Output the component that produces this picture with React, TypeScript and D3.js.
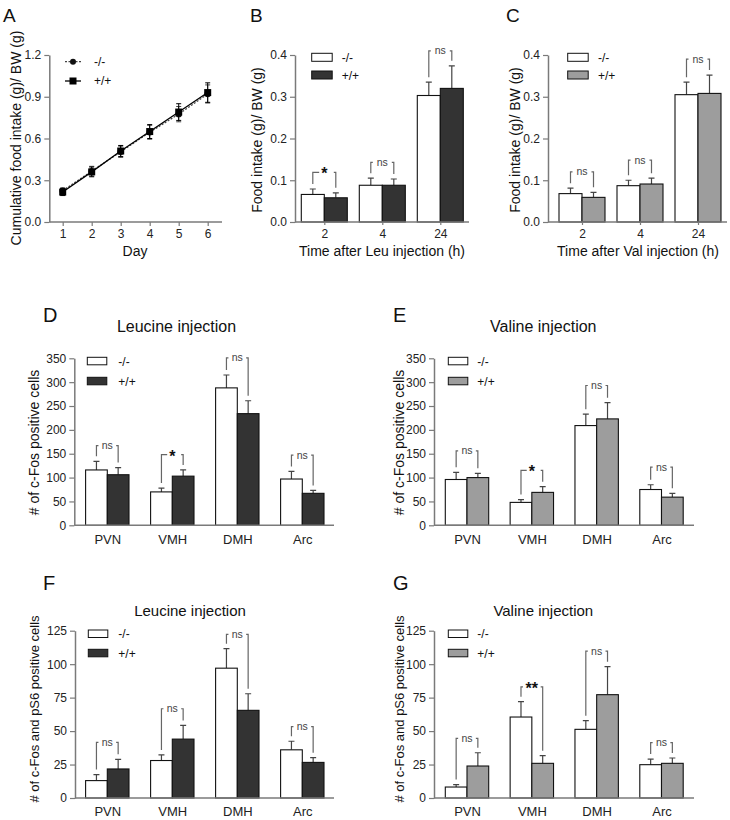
import React, { useRef, useEffect } from 'react';
import * as d3 from 'd3';

const FONT = 'Arial, "Liberation Sans", sans-serif';
const AXIS = '#7a7a7a';
const DARK = '#333333';
const GREY = '#9d9d9d';

// Panel A: cumulative food intake
const days = [1, 2, 3, 4, 5, 6];
const aKo = [0.225, 0.365, 0.505, 0.645, 0.775, 0.92];
const aKoErr = [0.02, 0.035, 0.04, 0.05, 0.055, 0.065];
const aWt = [0.215, 0.36, 0.51, 0.65, 0.79, 0.93];
const aWtErr = [0.025, 0.035, 0.04, 0.05, 0.06, 0.07];
const aTicks = [0, 0.3, 0.6, 0.9, 1.2];

// Panels B / C: food intake after injection
const hours = ['2', '4', '24'];
const bKo = [0.066, 0.088, 0.303];
const bKoErr = [0.013, 0.017, 0.032];
const bWt = [0.058, 0.088, 0.32];
const bWtErr = [0.012, 0.015, 0.054];
const bBracket = [0.119, 0.143, 0.41];
const bSig = ['*', 'ns', 'ns'];

const cKo = [0.068, 0.087, 0.305];
const cKoErr = [0.013, 0.013, 0.03];
const cWt = [0.059, 0.091, 0.308];
const cWtErr = [0.012, 0.014, 0.044];
const cBracket = [0.12, 0.148, 0.39];
const cSig = ['ns', 'ns', 'ns'];
const intakeTicks = [0, 0.1, 0.2, 0.3, 0.4];

// Panels D-G: hypothalamic nuclei
const regions = ['PVN', 'VMH', 'DMH', 'Arc'];
const dKo = [116, 70, 288, 97];
const dKoErr = [18, 8, 27, 16];
const dWt = [106, 103, 234, 67];
const dWtErr = [15, 13, 27, 6];
const dBracket = [167, 148, 351, 147];
const dSig = ['ns', '*', 'ns', 'ns'];

const eKo = [96, 48, 209, 75];
const eKoErr = [15, 6, 24, 10];
const eWt = [100, 69, 223, 59];
const eWtErr = [9, 12, 34, 8];
const eBracket = [156, 115, 293, 122];
const eSig = ['ns', '*', 'ns', 'ns'];
const fosTicks = [0, 50, 100, 150, 200, 250, 300, 350];

const fKo = [13, 28, 97, 36];
const fKoErr = [4.5, 4.2, 14.6, 6.4];
const fWt = [21.7, 44, 65.5, 26.6];
const fWtErr = [7.2, 10.2, 12.4, 3.5];
const fBracket = [41.6, 66.7, 122.3, 53.3];
const fSig = ['ns', 'ns', 'ns', 'ns'];

const gKo = [8.2, 60.5, 51.3, 24.9];
const gKoErr = [1.8, 11.5, 6.5, 4.2];
const gWt = [23.9, 25.9, 77.2, 25.9];
const gWtErr = [9.9, 5.7, 20.9, 4];
const gBracket = [44.6, 83.1, 109.8, 41.3];
const gSig = ['ns', '**', 'ns', 'ns'];
const ps6Ticks = [0, 25, 50, 75, 100, 125];

const legendLabels = ['-/-', '+/+'];

function styleAxis(sel, size = 12) {
  sel.select('.domain').attr('stroke', AXIS).attr('stroke-width', 1.5);
  sel.selectAll('.tick line').attr('stroke', AXIS).attr('stroke-width', 1.2);
  sel.selectAll('.tick text').attr('fill', '#222').attr('font-size', size).attr('font-family', FONT);
}

function text(g, x, y, str, size, opts: any = {}) {
  const t = g.append('text')
    .attr('x', x).attr('y', y)
    .attr('font-family', FONT).attr('font-size', size)
    .attr('fill', opts.fill || '#111')
    .attr('text-anchor', opts.anchor || 'start')
    .text(str);
  if (opts.rotate) t.attr('transform', `rotate(-90,${x},${y})`);
  return t;
}

function drawLinePanel(g) {
  const x = d3.scaleLinear().domain([1, 6]).range([62.7, 207.7]);
  const y = d3.scaleLinear().domain([0, 1.2]).range([222, 55]);

  text(g, 3, 22, 'A', 19);
  text(g, 21, 138, 'Cumulative food intake (g)/ BW (g)', 14, { anchor: 'middle', rotate: true });
  text(g, 135, 256, 'Day', 14, { anchor: 'middle' });

  const ya = g.append('g').attr('transform', 'translate(49.3,0)')
    .call(d3.axisLeft(y).tickValues(aTicks).tickFormat(d3.format('.1f')).tickSize(5).tickSizeOuter(0));
  styleAxis(ya);
  g.append('line').attr('x1', 49.3).attr('x2', 222).attr('y1', 222).attr('y2', 222)
    .attr('stroke', AXIS).attr('stroke-width', 1.5);
  const xa = g.append('g').attr('transform', 'translate(0,222)')
    .call(d3.axisBottom(x).tickValues(days).tickFormat(d3.format('d')).tickSize(4).tickSizeOuter(0));
  xa.select('.domain').remove();
  styleAxis(xa);

  const series = [
    { mean: aKo, err: aKoErr, dash: '2,1.5', color: '#444', marker: 'circle' },
    { mean: aWt, err: aWtErr, dash: null, color: '#000', marker: 'square' },
  ];
  const line = d3.line<number>().x((_, i) => x(days[i])).y(d => y(d));
  series.forEach(s => {
    const pts = days.map((d, i) => ({ d, m: s.mean[i], e: s.err[i] }));
    g.append('g').selectAll('path').data(pts).join('path')
      .attr('d', p => {
        const cx = x(p.d);
        return `M${cx},${y(p.m - p.e)}V${y(p.m + p.e)}M${cx - 2.5},${y(p.m + p.e)}H${cx + 2.5}M${cx - 2.5},${y(p.m - p.e)}H${cx + 2.5}`;
      })
      .attr('stroke', s.color).attr('stroke-width', 1).attr('fill', 'none');
    g.append('path').attr('d', line(s.mean)).attr('fill', 'none')
      .attr('stroke', s.color).attr('stroke-width', 1.3)
      .attr('stroke-dasharray', s.dash);
    if (s.marker === 'circle') {
      g.append('g').selectAll('circle').data(pts).join('circle')
        .attr('cx', p => x(p.d)).attr('cy', p => y(p.m)).attr('r', 3.2).attr('fill', '#111');
    } else {
      g.append('g').selectAll('rect').data(pts).join('rect')
        .attr('x', p => x(p.d) - 3.5).attr('y', p => y(p.m) - 3.5)
        .attr('width', 7).attr('height', 7).attr('fill', '#000');
    }
  });

  // legend
  series.forEach((s, i) => {
    const ly = 61.7 + i * 19.3;
    g.append('line').attr('x1', 65).attr('x2', 81).attr('y1', ly).attr('y2', ly)
      .attr('stroke', s.color).attr('stroke-width', 1.3).attr('stroke-dasharray', s.dash);
    if (s.marker === 'circle') {
      g.append('circle').attr('cx', 73).attr('cy', ly).attr('r', 3).attr('fill', '#111');
    } else {
      g.append('rect').attr('x', 69.5).attr('y', ly - 3.5).attr('width', 7).attr('height', 7).attr('fill', '#000');
    }
    text(g, 94, ly + 4, legendLabels[i], 12);
  });
}

function drawBarPanel(g, cfg) {
  const y = d3.scaleLinear().domain([0, cfg.ticks[cfg.ticks.length - 1]]).range([cfg.y0, cfg.y1]);
  const x = d3.scalePoint().domain(cfg.cats).range([cfg.c0, cfg.c1]);
  const bw = cfg.bw;

  text(g, cfg.lx, cfg.ly, cfg.letter, cfg.letterSize);
  if (cfg.title) text(g, cfg.tx, cfg.ty, cfg.title, cfg.titleSize, { anchor: 'middle' });
  text(g, cfg.ylx, cfg.yly, cfg.yLabel, cfg.yLabelSize, { anchor: 'middle', rotate: true });
  if (cfg.xLabel) text(g, cfg.xlx, cfg.xly, cfg.xLabel, 14, { anchor: 'middle' });

  const ya = g.append('g').attr('transform', `translate(${cfg.ax},0)`)
    .call(d3.axisLeft(y).tickValues(cfg.ticks).tickFormat(cfg.fmt).tickSize(5).tickSizeOuter(0));
  styleAxis(ya);

  const rows = cfg.cats.map((c, i) => ({
    c, ko: cfg.ko[i], koErr: cfg.koErr[i], wt: cfg.wt[i], wtErr: cfg.wtErr[i],
    top: cfg.bracket[i], sig: cfg.sig[i],
  }));

  const bars = rows.flatMap(r => [
    { x: x(r.c) - bw, v: r.ko, e: r.koErr, fill: '#fff' },
    { x: x(r.c), v: r.wt, e: r.wtErr, fill: cfg.wtFill },
  ]);
  g.append('g').selectAll('path').data(bars).join('path')
    .attr('d', b => {
      const cx = b.x + bw / 2;
      return `M${cx},${y(b.v)}V${y(b.v + b.e)}M${cx - 3},${y(b.v + b.e)}H${cx + 3}`;
    })
    .attr('stroke', '#444').attr('stroke-width', 1.2).attr('fill', 'none');
  g.append('g').selectAll('rect').data(bars).join('rect')
    .attr('x', b => b.x).attr('y', b => y(b.v))
    .attr('width', bw).attr('height', b => y(0) - y(b.v))
    .attr('fill', b => b.fill).attr('stroke', '#111').attr('stroke-width', 1.1);

  g.append('line').attr('x1', cfg.ax).attr('x2', cfg.axEnd).attr('y1', y(0)).attr('y2', y(0))
    .attr('stroke', AXIS).attr('stroke-width', 1.5);
  const xa = g.append('g').attr('transform', `translate(0,${y(0)})`)
    .call(d3.axisBottom(x).tickSize(cfg.xTick).tickPadding(cfg.xPad).tickSizeOuter(0));
  xa.select('.domain').remove();
  styleAxis(xa, cfg.xFont);

  // significance brackets
  rows.forEach(r => {
    const xl = x(r.c) - bw / 2;
    const xr = x(r.c) + bw / 2;
    const ty = y(r.top);
    const star = r.sig !== 'ns';
    const t = text(g, x(r.c), star ? ty + 7 : ty + 3.5, r.sig, star ? 16 : 10.5,
      { anchor: 'middle', fill: star ? '#111' : '#444' });
    if (star) t.attr('font-weight', 'bold');
    const half = (t.node() as SVGTextElement).getComputedTextLength() / 2 + 2;
    const path = d3.path();
    path.moveTo(xl, y(r.ko + r.koErr) - 5);
    path.lineTo(xl, ty);
    path.lineTo(Math.min(x(r.c) - half, xl + 4 > x(r.c) - half ? xl + 2 : x(r.c) - half), ty);
    path.moveTo(Math.max(x(r.c) + half, xr - 2), ty);
    path.lineTo(xr, ty);
    path.lineTo(xr, y(r.wt + r.wtErr) - 5);
    g.append('path').attr('d', path.toString()).attr('fill', 'none')
      .attr('stroke', '#666').attr('stroke-width', 1.2);
  });

  // legend
  [{ fill: '#fff' }, { fill: cfg.wtFill }].forEach((d, i) => {
    const ry = cfg.legY + i * cfg.legGap;
    g.append('rect').attr('x', cfg.legX).attr('y', ry).attr('width', cfg.legW).attr('height', cfg.legH)
      .attr('fill', d.fill).attr('stroke', '#111').attr('stroke-width', 1);
    text(g, cfg.legTx, ry + cfg.legH / 2 + 4.5, legendLabels[i], 12);
  });
}

export default function App() {
  const svgRef = useRef<SVGSVGElement>(null);

  useEffect(() => {
    const svg = d3.select(svgRef.current);
    svg.selectAll('*').remove();

    drawLinePanel(svg.append('g'));

    const f1 = d3.format('.1f');
    const fd = d3.format('d');
    const small = { y0: 222, y1: 55, ticks: intakeTicks, fmt: f1, bw: 23, cats: hours, xTick: 3, xPad: 4, xFont: 12,
      yLabel: 'Food intake (g)/ BW (g)', yLabelSize: 14, letterSize: 19, legW: 20.5, legH: 8, legGap: 17.7 };
    drawBarPanel(svg.append('g'), {
      ...small, letter: 'B', lx: 250, ly: 22, ylx: 262, yly: 140, xLabel: 'Time after Leu injection (h)', xlx: 382, xly: 256,
      ax: 295, axEnd: 469, c0: 324.3, c1: 440.3, ko: bKo, koErr: bKoErr, wt: bWt, wtErr: bWtErr,
      bracket: bBracket, sig: bSig, wtFill: DARK, legX: 311.7, legY: 53.3, legTx: 341.7,
    });
    drawBarPanel(svg.append('g'), {
      ...small, letter: 'C', lx: 506, ly: 22, ylx: 520, yly: 140, xLabel: 'Time after Val injection (h)', xlx: 638, xly: 256,
      ax: 548, axEnd: 727, c0: 582, c1: 698, ko: cKo, koErr: cKoErr, wt: cWt, wtErr: cWtErr,
      bracket: cBracket, sig: cSig, wtFill: GREY, legX: 567.7, legY: 53.3, legTx: 598,
    });

    const big = { bw: 21.7, cats: regions, xTick: 0, xPad: 9, xFont: 13, letterSize: 20, titleSize: 16,
      legW: 19.5, legH: 7.5, legGap: 20 };
    drawBarPanel(svg.append('g'), {
      ...big, letter: 'D', lx: 43, ly: 322.3, title: 'Leucine injection', tx: 176.5, ty: 332.3,
      yLabel: '# of c-Fos positive cells', yLabelSize: 14, ylx: 39, yly: 442.5,
      y0: 525.3, y1: 358.3, ticks: fosTicks, fmt: fd, ax: 74.3, axEnd: 334, c0: 107.3, c1: 302.3,
      ko: dKo, koErr: dKoErr, wt: dWt, wtErr: dWtErr, bracket: dBracket, sig: dSig, wtFill: DARK,
      legX: 87.3, legY: 357.3, legTx: 118.3,
    });
    drawBarPanel(svg.append('g'), {
      ...big, letter: 'E', lx: 393, ly: 321.7, title: 'Valine injection', tx: 543.3, ty: 331.7,
      yLabel: '# of c-Fos positive cells', yLabelSize: 14, ylx: 403.5, yly: 442.5,
      y0: 525.3, y1: 358.3, ticks: fosTicks, fmt: fd, ax: 434, axEnd: 694, c0: 467, c1: 661.5,
      ko: eKo, koErr: eKoErr, wt: eWt, wtErr: eWtErr, bracket: eBracket, sig: eSig, wtFill: GREY,
      legX: 448.3, legY: 357.3, legTx: 477.3,
    });
    drawBarPanel(svg.append('g'), {
      ...big, letter: 'F', lx: 43, ly: 590, title: 'Leucine injection', tx: 190, ty: 615.7, titleSize: 15,
      yLabel: '# of c-Fos and pS6 positive cells', yLabelSize: 13, ylx: 39, yly: 709,
      y0: 798, y1: 630.7, ticks: ps6Ticks, fmt: fd, ax: 75, axEnd: 334, c0: 107.3, c1: 302.3,
      ko: fKo, koErr: fKoErr, wt: fWt, wtErr: fWtErr, bracket: fBracket, sig: fSig, wtFill: DARK,
      legX: 88.3, legY: 630, legTx: 118.3, legGap: 19.3,
    });
    drawBarPanel(svg.append('g'), {
      ...big, letter: 'G', lx: 393, ly: 590, title: 'Valine injection', tx: 543.3, ty: 615.7, titleSize: 15,
      yLabel: '# of c-Fos and pS6 positive cells', yLabelSize: 13, ylx: 403.5, yly: 709,
      y0: 798, y1: 630.7, ticks: ps6Ticks, fmt: fd, ax: 434, axEnd: 694, c0: 467, c1: 661.5,
      ko: gKo, koErr: gKoErr, wt: gWt, wtErr: gWtErr, bracket: gBracket, sig: gSig, wtFill: GREY,
      legX: 448.3, legY: 630, legTx: 477.3, legGap: 19.3,
    });
  }, []);

  return (
    <svg ref={svgRef} width={730} height={820}
      style={{ position: 'absolute', left: 0, top: 0, background: '#fff' }} />
  );
}
